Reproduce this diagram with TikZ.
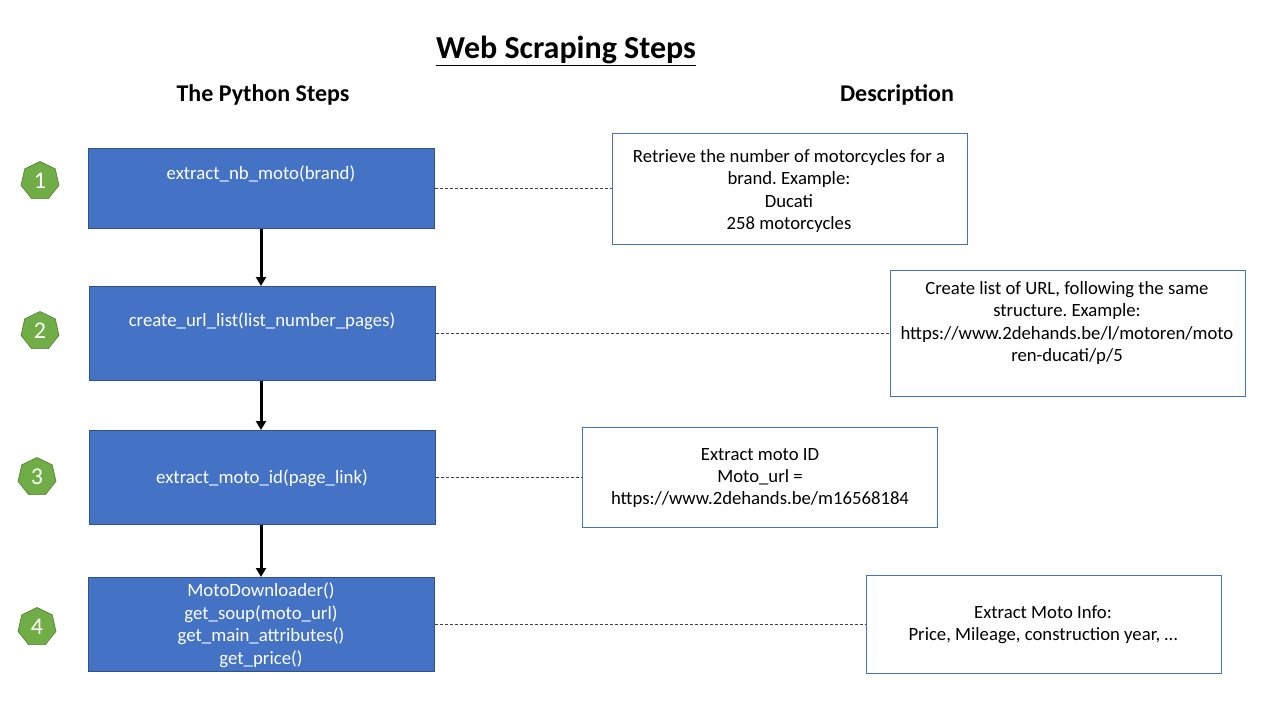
\documentclass[tikz,border=0pt]{standalone}
\usepackage{fontspec}
\setmainfont{Carlito}
\frenchspacing
\usetikzlibrary{shapes.geometric,arrows.meta}
\definecolor{boxblue}{HTML}{4472C4}
\definecolor{boxedge}{HTML}{2F528F}
\definecolor{badgegreen}{HTML}{70AD47}
\definecolor{badgeedge}{HTML}{507E32}
\definecolor{dashgray}{HTML}{404040}
\tikzset{
  stepbox/.style={draw=boxedge, line width=0.8pt, fill=boxblue, inner sep=0pt, anchor=north west},
  steptext/.style={text=white, font=\fontsize{18.8}{22.5}\selectfont, align=center, inner sep=0pt},
  descbox/.style={draw=boxblue, line width=0.8pt, fill=white, inner sep=0pt, anchor=north west},
  desctext/.style={text=black, font=\fontsize{18.7}{22.3}\selectfont, align=center, inner sep=0pt},
  badge/.style={regular polygon, regular polygon sides=7, fill=badgegreen, draw=badgeedge, line width=0.6pt, minimum size=39pt, inner sep=0pt, text=white, font=\fontsize{24}{24}\selectfont},
  flow/.style={line width=3pt, -{Triangle[length=9pt,width=10pt]}},
  link/.style={draw=dashgray, line width=0.8pt, dash pattern=on 3pt off 2pt},
  header/.style={font=\bfseries\fontsize{24}{24}\selectfont, inner sep=0pt}
}
\begin{document}
\begin{tikzpicture}[x=1pt,y=-1pt]
\useasboundingbox (0,0) rectangle (1280,720);
\fill[white] (0,0) rectangle (1280,720);

% title and headers
\node[font=\bfseries\fontsize{32}{32}\selectfont, inner sep=0pt] (title) at (566,51) {\underline{Web Scraping Steps}};
\node[header] (hpy) at (263,95) {The Python Steps};
\node[header] (hdesc) at (897,95) {Description};

% step boxes
\node[stepbox, minimum width=346pt, minimum height=80pt] (s1) at (88,148) {};
\node[stepbox, minimum width=346pt, minimum height=94pt] (s2) at (89,286) {};
\node[stepbox, minimum width=346pt, minimum height=94pt] (s3) at (89,430) {};
\node[stepbox, minimum width=346pt, minimum height=94pt] (s4) at (88,577) {};

\node[steptext] (t1) at (261,174) {extract\_nb\_moto(brand)};
\node[steptext] (t2) at (262,321) {create\_url\_list(list\_number\_pages)};
\node[steptext] (t3) at (262,478) {extract\_moto\_id(page\_link)};
\node[steptext] (t4) at (261,625) {MotoDownloader()\\get\_soup(moto\_url)\\get\_main\_attributes()\\get\_price()};

% badges
\node[badge] (b1) at (40,181) {1};
\node[badge] (b2) at (40,331) {2};
\node[badge] (b3) at (37,477) {3};
\node[badge] (b4) at (37,627) {4};

% description boxes
\node[descbox, minimum width=355pt, minimum height=111pt] (d1) at (612,133) {};
\node[descbox, minimum width=355pt, minimum height=126pt] (d2) at (890,270) {};
\node[descbox, minimum width=355pt, minimum height=100pt] (d3) at (582,427) {};
\node[descbox, minimum width=355pt, minimum height=98pt] (d4) at (866,575) {};

\node[desctext] (e1) at (789,191) {Retrieve the number of motorcycles for a\\brand. Example:\\Ducati\\258 motorcycles};
\node[desctext] (e2) at (1067,323) {Create list of URL, following the same\\structure. Example:\\https://www.2dehands.be/l/motoren/moto\\ren-ducati/p/5};
\node[desctext] (e3) at (760,478) {Extract moto ID\\Moto\_url =\\https://www.2dehands.be/m16568184};
\node[desctext] (e4) at (1043,625) {Extract Moto Info:\\Price, Mileage, construction year, \ldots};

% flow arrows
\draw[flow] (s1.south -| t1) -- (s2.north -| t1);
\draw[flow] (s2.south -| t1) -- (s3.north -| t1);
\draw[flow] (s3.south -| t1) -- (s4.north -| t1);

% dashed links
\draw[link] (s1.east |- 0,188) -- (d1.west |- 0,188);
\draw[link] (s2.east |- 0,333) -- (d2.west |- 0,333);
\draw[link] (s3.east |- 0,477) -- (d3.west |- 0,477);
\draw[link] (s4.east |- 0,624) -- (d4.west |- 0,624);
\end{tikzpicture}
\end{document}
